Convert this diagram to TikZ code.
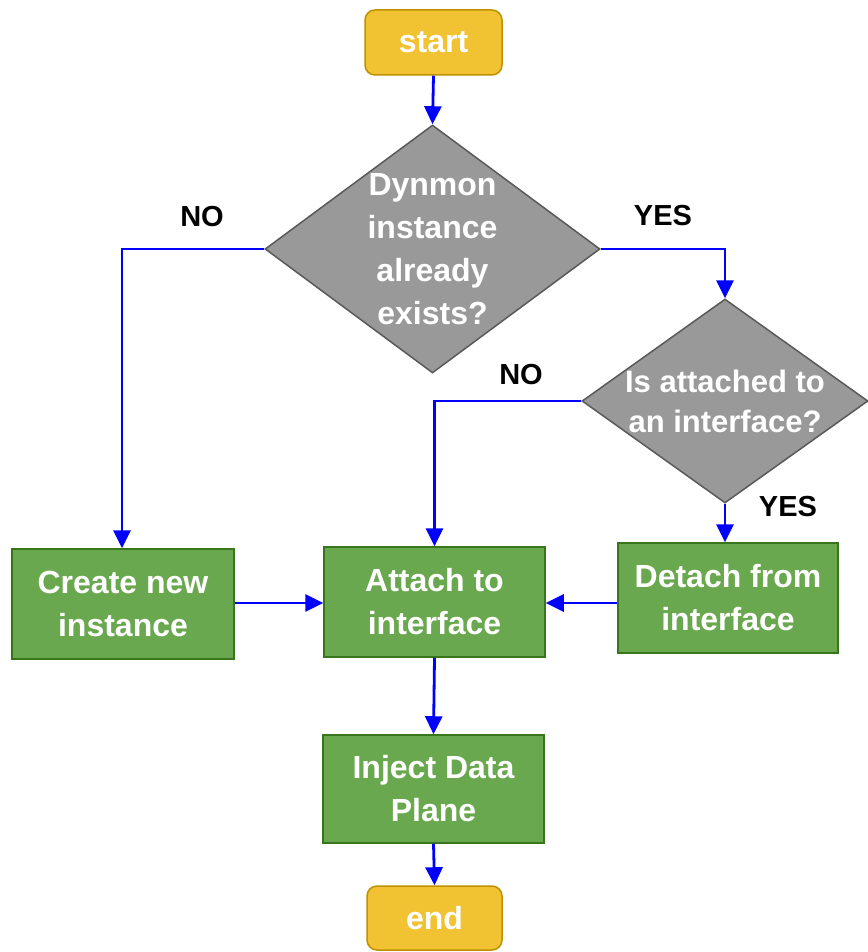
\documentclass[tikz,border=0pt]{standalone}
\usepackage{fontspec}
\setmainfont{Liberation Sans}
\usetikzlibrary{shapes.geometric,arrows.meta}

\definecolor{termfill}{HTML}{F1C232}
\definecolor{termline}{HTML}{BF9000}
\definecolor{procfill}{HTML}{6AA84F}
\definecolor{procline}{HTML}{38761D}
\definecolor{decfill}{HTML}{999999}
\definecolor{decline}{HTML}{595959}
\definecolor{flow}{HTML}{0000FF}

\tikzset{
  boxtext/.style={font=\fontsize{32}{43}\selectfont\bfseries, text=white, align=center},
  terminal/.style={boxtext, draw=termline, fill=termfill, line width=1.5pt,
    rounded corners=10pt, inner sep=0pt},
  process/.style={boxtext, draw=procline, fill=procfill, line width=1.5pt, inner sep=0pt},
  decision/.style={diamond, draw=decline, fill=decfill, line width=1.5pt, inner sep=0pt},
  branch/.style={font=\fontsize{29}{32}\selectfont\bfseries, text=black},
  flowline/.style={draw=flow, line width=2.8pt,
    -{Triangle[length=18pt,width=17pt]}},
}

\begin{document}
\begin{tikzpicture}[x=1pt,y=-1pt]
  \useasboundingbox (0,0) rectangle (867,952);

  % terminals
  \node[terminal, minimum width=137pt, minimum height=65pt] (start) at (433.5,42.5) {start};
  \node[terminal, minimum width=135pt, minimum height=64pt] (end) at (434.5,918) {end};

  % decisions
  \node[decision, minimum width=335pt, minimum height=248pt,
        label={[boxtext, font=\fontsize{32}{43}\selectfont\bfseries]center:{Dynmon\\instance\\already\\exists?}}]
        (exists) at (432.5,249) {};
  \node[decision, minimum width=286pt, minimum height=204pt,
        label={[boxtext, font=\fontsize{31}{40}\selectfont\bfseries]center:{Is attached to\\an interface?}}]
        (attached) at (725,401) {};

  % processes
  \node[process, minimum width=222pt, minimum height=110pt] (create) at (123,604) {Create new\\instance};
  \node[process, minimum width=221pt, minimum height=110pt] (attach) at (434.5,602) {Attach to\\interface};
  \node[process, minimum width=220pt, minimum height=110pt] (detach) at (728,598) {Detach from\\interface};
  \node[process, minimum width=221pt, minimum height=108pt] (inject) at (433.5,789) {Inject Data\\Plane};

  % branch labels
  \node[branch] (noA) at (202,217) {NO};
  \node[branch] (yesA) at (663,216) {YES};
  \node[branch] (noB) at (521,375) {NO};
  \node[branch] (yesB) at (788,507) {YES};

  % connectors
  \draw[flowline] (start.south) -- (exists.north);
  \draw[flowline] (exists.west) -| (create.north -| 122,0);
  \draw[flowline] (exists.east) -| (attached.north);
  \draw[flowline] (attached.west) -| (attach.north);
  \draw[flowline] (attached.south) -- (attached.south |- detach.north);
  \draw[flowline] (create.east |- 0,603) -- (attach.west |- 0,603);
  \draw[flowline] (detach.west |- 0,603) -- (attach.east |- 0,603);
  \draw[flowline] (attach.south) -- (inject.north);
  \draw[flowline] (inject.south) -- (end.north);
\end{tikzpicture}
\end{document}
